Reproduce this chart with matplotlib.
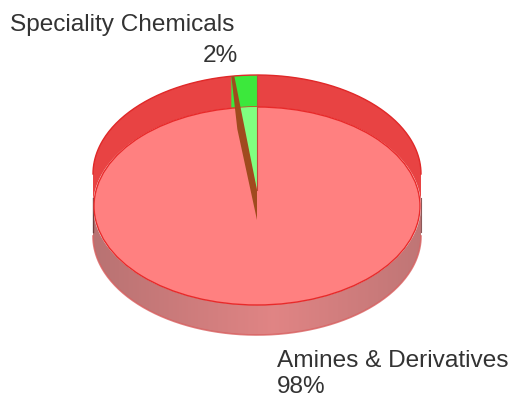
import numpy as np
import matplotlib.pyplot as plt
from matplotlib.patches import Polygon, Ellipse

# data
labels = ['Amines & Derivatives', 'Speciality Chemicals']
shares = [97.5, 2.5]
colors_top = ['#ff8080', '#80ff80']
colors_band = ['#e84343', '#3ce83c']

W, H = 512, 400
fig = plt.figure(figsize=(W / 100, H / 100), dpi=100)
ax = fig.add_axes([0, 0, 1, 1])
ax.axis('off')

cx, a, b = 257, 164, 99
c1, c2, c3 = 174, 206, 236   # back rim, face, bottom rim


def pt(theta, c):
    t = np.radians(theta)
    return cx + a * np.cos(t), c - b * np.sin(t)


def arc(t0, t1, c, n=200):
    t = np.radians(np.linspace(t0, t1, n))
    return np.column_stack([cx + a * np.cos(t), c - b * np.sin(t)])


# slice angles, starting at 12 o'clock and going anticlockwise
fr = np.array(shares) / sum(shares)
green0 = 90
green1 = 90 + 360 * fr[1]

# bottom side (grey-red gradient)
side = np.vstack([arc(180, 360, c3), [[cx + a, c2]], arc(0, -180, c2)])
side_poly = Polygon(side, closed=True, facecolor='none', edgecolor='none')
ax.add_patch(side_poly)
grad = np.linspace(0, 1, 300)
prof = 1 - np.abs(grad - 0.55) * 1.3
r = 0.66 + 0.22 * prof
g = 0.42 + 0.10 * prof
bl = 0.42 + 0.10 * prof
img = np.dstack([r, g, bl]).repeat(2, axis=0)
im = ax.imshow(img, extent=[cx - a, cx + a, c3 + b + 2, c2], aspect='auto', zorder=1)
im.set_clip_path(side_poly)
ax.plot(*arc(180, 360, c3).T, color='#d86060', lw=1.2, alpha=0.8, zorder=2)

# back band
band = np.vstack([arc(0, 180, c1), [[cx - a, c2]], arc(180, 0, c2)])
ax.add_patch(Polygon(band, closed=True, facecolor=colors_band[0], edgecolor='none', zorder=2))
gband = np.vstack([arc(green0, green1, c1, 30), arc(green1, green0, c2, 30)])
ax.add_patch(Polygon(gband, closed=True, facecolor=colors_band[1], edgecolor='none', zorder=3))
ax.plot(*arc(0, 180, c1).T, color='#e02828', lw=1.0, zorder=3)
ax.plot([cx - a, cx - a], [c2 - 8, c3 - 4], color='#603030', lw=1.0, alpha=0.8, zorder=3)
ax.plot([cx + a, cx + a], [c2 - 8, c3 - 4], color='#703030', lw=0.8, alpha=0.8, zorder=3)

# face
face = Ellipse((cx, c2), 2 * a - 2, 2 * b, facecolor=colors_top[0], edgecolor='#e82a2a', lw=1.0, zorder=4)
ax.add_patch(face)
gface = np.vstack([[[cx, c1 + 16]], arc(green0, green1, c1, 30)])
gp = Polygon(gface, closed=True, facecolor=colors_top[1], edgecolor='none', zorder=5)
ax.add_patch(gp)
gp.set_clip_path(face)
ax.plot([cx, cx], [c1 - b, c1 + 16], color='#c04a3a', lw=0.8, zorder=5)

# radial wall of the small slice
xo, yo = pt(green1, c1)
wall = [(xo, yo), (xo + 3, yo), (cx, c1 + 16), (cx, c1 + 46), (xo + 6, yo + 53)]
ax.add_patch(Polygon(wall, closed=True, facecolor='#a04a1e', edgecolor='none', zorder=6))

# labels
pcts = [f'{v:.0f}%' for v in shares]
font = dict(family='Liberation Sans', size=17.6, color='#333333')
ax.text(10, 31, labels[1], ha='left', va='baseline', **font)
ax.text(238, 62, pcts[1], ha='right', va='baseline', **font)
ax.text(277, 367, labels[0], ha='left', va='baseline', **font)
ax.text(277, 393, pcts[0], ha='left', va='baseline', **font)

ax.set_xlim(0, W)
ax.set_ylim(H, 0)
fig.savefig('out.png', dpi=100)
